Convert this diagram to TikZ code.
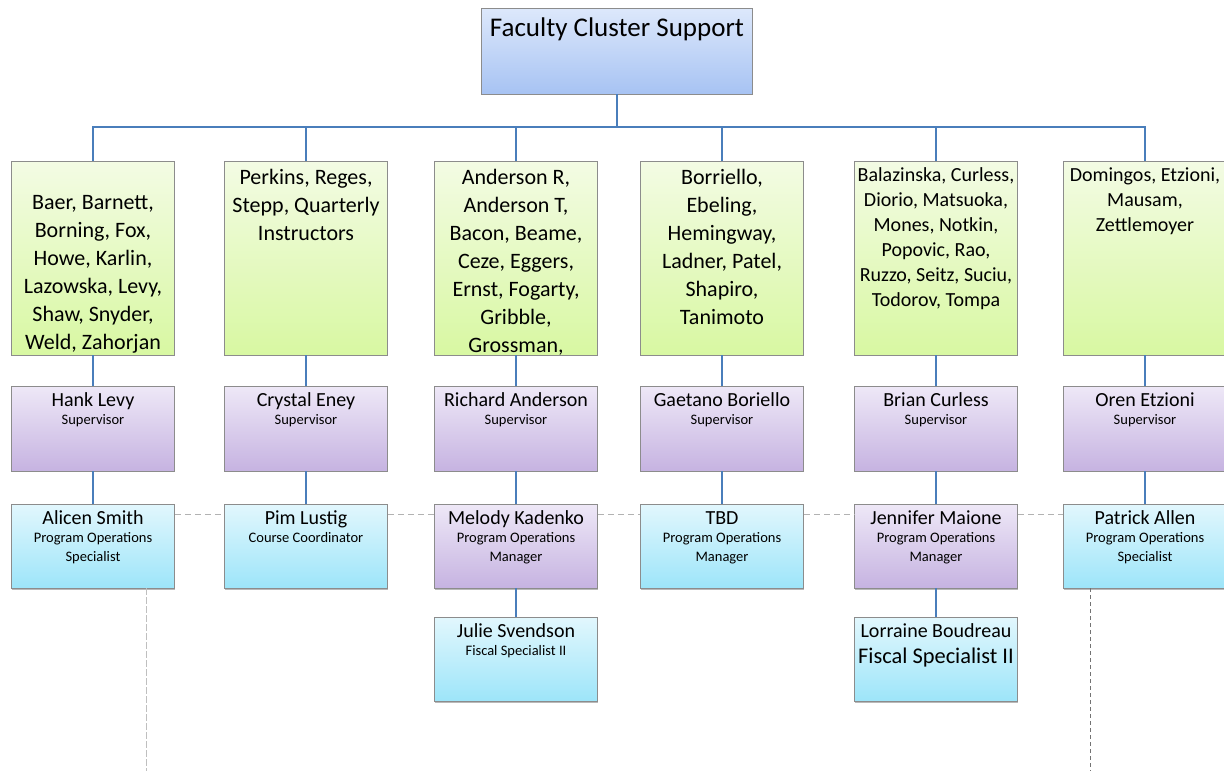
\documentclass[tikz,border=0pt]{standalone}
\usepackage{fontspec}
\setmainfont{Carlito}
\usetikzlibrary{positioning}
\usetikzlibrary{shadows}

\definecolor{connblue}{HTML}{4A7EBB}
\definecolor{boxgray}{HTML}{8C8C8C}
\definecolor{titletop}{HTML}{DDE8FB}
\definecolor{titlebot}{HTML}{A7C3F3}
\definecolor{greentop}{HTML}{F3FBE4}
\definecolor{greenbot}{HTML}{D8F8A2}
\definecolor{lilactop}{HTML}{EEE8F7}
\definecolor{lilacbot}{HTML}{C6B3E1}
\definecolor{cyantop}{HTML}{E2F7FD}
\definecolor{cyanbot}{HTML}{9DE5F9}

\newcommand{\jobrole}[1]{{\fontsize{14.5}{18.5}\selectfont #1}}

\begin{document}
\begin{tikzpicture}[x=1pt,y=-1pt]
            \tikzset{box/.style={draw=boxgray, line width=0.8pt, minimum width=163pt, inner sep=0pt}};
            \tikzset{titlebox/.style={box, minimum width=271pt, minimum height=86pt, top color=titletop, bottom color=titlebot}};
            \tikzset{greenbox/.style={box, minimum height=194pt, top color=greentop, bottom color=greenbot}};
            \tikzset{lilacbox/.style={box, minimum height=85pt, top color=lilactop, bottom color=lilacbot}};
            \tikzset{cyanbox/.style={box, minimum height=84pt, top color=cyantop, bottom color=cyanbot}};
            \tikzset{shadowed/.style={drop shadow={shadow xshift=0.8pt, shadow yshift=-1.6pt, opacity=0.55, fill=gray}}};
            \tikzset{members/.style={align=center, inner sep=0pt, font=\fontsize{22}{28}\selectfont}};
            \tikzset{smallmembers/.style={members, font=\fontsize{20}{25}\selectfont}};
            \tikzset{person/.style={align=center, inner sep=0pt, font=\fontsize{20}{18.5}\selectfont}};
            \tikzset{conn/.style={draw=connblue, line width=1.6pt}};
            \tikzset{dots/.style={draw=black!30, line width=1pt, dash pattern=on 6pt off 4pt}};

            \useasboundingbox (0,0) rectangle (1224,771);

            % top
            \node[titlebox] (fcs) at (617,51) {};
            \node[below=10pt of fcs.north, inner sep=0pt, font=\fontsize{27}{32}\selectfont] (fcst) {Faculty Cluster Support};

            % faculty groups
            \node[greenbox] (g1) at (93,258) {};
            \node[members, below=35pt of g1.north] (g1t) {Baer, Barnett,\\Borning, Fox,\\Howe, Karlin,\\Lazowska, Levy,\\Shaw, Snyder,\\Weld, Zahorjan};
            \node[greenbox] (g2) at (306,258) {};
            \node[members, below=8pt of g2.north] (g2t) {Perkins, Reges,\\Stepp, Quarterly\\Instructors};
            \node[greenbox] (g3) at (516,258) {};
            \node[members, below=8pt of g3.north] (g3t) {Anderson R,\\Anderson T,\\Bacon, Beame,\\Ceze, Eggers,\\Ernst, Fogarty,\\Gribble,\\Grossman,};
            \node[greenbox] (g4) at (722,258) {};
            \node[members, below=8pt of g4.north] (g4t) {Borriello,\\Ebeling,\\Hemingway,\\Ladner, Patel,\\Shapiro,\\Tanimoto};
            \node[greenbox] (g5) at (936,258) {};
            \node[smallmembers, below=6.5pt of g5.north] (g5t) {Balazinska, Curless,\\Diorio, Matsuoka,\\Mones, Notkin,\\Popovic, Rao,\\Ruzzo, Seitz, Suciu,\\Todorov, Tompa};
            \node[greenbox] (g6) at (1145,258) {};
            \node[smallmembers, below=6.5pt of g6.north] (g6t) {Domingos, Etzioni,\\Mausam,\\Zettlemoyer};

            % supervisors
            \node[lilacbox] (s1) at (93,428.5) {};
            \node[person, below=6.5pt of s1.north] (s1t) {Hank Levy\\\jobrole{Supervisor}};
            \node[lilacbox] (s2) at (306,428.5) {};
            \node[person, below=6.5pt of s2.north] (s2t) {Crystal Eney\\\jobrole{Supervisor}};
            \node[lilacbox] (s3) at (516,428.5) {};
            \node[person, below=6.5pt of s3.north] (s3t) {Richard Anderson\\\jobrole{Supervisor}};
            \node[lilacbox] (s4) at (722,428.5) {};
            \node[person, below=6.5pt of s4.north] (s4t) {Gaetano Boriello\\\jobrole{Supervisor}};
            \node[lilacbox] (s5) at (936,428.5) {};
            \node[person, below=6.5pt of s5.north] (s5t) {Brian Curless\\\jobrole{Supervisor}};
            \node[lilacbox] (s6) at (1145,428.5) {};
            \node[person, below=6.5pt of s6.north] (s6t) {Oren Etzioni\\\jobrole{Supervisor}};

            % staff
            \node[cyanbox, shadowed] (r1) at (93,546) {};
            \node[person, below=6.5pt of r1.north] (r1t) {Alicen Smith\\\jobrole{Program Operations}\\\jobrole{Specialist}};
            \node[cyanbox, shadowed] (r2) at (306,546) {};
            \node[person, below=6.5pt of r2.north] (r2t) {Pim Lustig\\\jobrole{Course Coordinator}};
            \node[lilacbox, shadowed, minimum height=84pt] (r3) at (516,546) {};
            \node[person, below=6.5pt of r3.north] (r3t) {Melody Kadenko\\\jobrole{Program Operations}\\\jobrole{Manager}};
            \node[cyanbox, shadowed] (r4) at (722,546) {};
            \node[person, below=7.5pt of r4.north] (r4t) {TBD\\\jobrole{Program Operations}\\\jobrole{Manager}};
            \node[lilacbox, shadowed, minimum height=84pt] (r5) at (936,546) {};
            \node[person, below=6.5pt of r5.north] (r5t) {Jennifer Maione\\\jobrole{Program Operations}\\\jobrole{Manager}};
            \node[cyanbox, shadowed] (r6) at (1145,546) {};
            \node[person, below=6.5pt of r6.north] (r6t) {Patrick Allen\\\jobrole{Program Operations}\\\jobrole{Specialist}};

            % fiscal
            \node[cyanbox, shadowed] (f3) at (516,659) {};
            \node[person, below=6.5pt of f3.north] (f3t) {Julie Svendson\\\jobrole{Fiscal Specialist II}};
            \node[cyanbox, shadowed] (f5) at (936,659) {};
            \node[person, font=\fontsize{20}{26.5}\selectfont, below=6.5pt of f5.north] (f5t) {Lorraine Boudreau\\{\fontsize{22.4}{26.5}\selectfont Fiscal Specialist II}};

            % lines
            \coordinate (bus) at (617,127);
            \draw[conn] (fcs.south) -- (bus);
            \foreach \i in {1,...,6} {
                \draw[conn] (bus) -| (g\i.north);
                \draw[conn] (g\i.south) -- (s\i.north);
                \draw[conn] (s\i.south) -- (r\i.north);
            }
            \draw[conn] (r3.south) -- (f3.north);
            \draw[conn] (r5.south) -- (f5.north);

            \foreach \i/\j in {1/2,2/3,3/4,4/5,5/6}
                \draw[dots] ([yshift=-11pt]r\i.north east) -- ([yshift=-11pt]r\j.north west);

            \coordinate (lend) at (146,771);
            \coordinate (rend) at (1090,771);
            \draw[dots, draw=black!25, dash pattern=on 7pt off 2pt] (r1.south -| lend) -- (lend);
            \draw[dots, draw=black!55, line width=0.8pt, dash pattern=on 4pt off 3pt] (r6.south -| rend) -- (rend);
        \end{tikzpicture}
\end{document}
